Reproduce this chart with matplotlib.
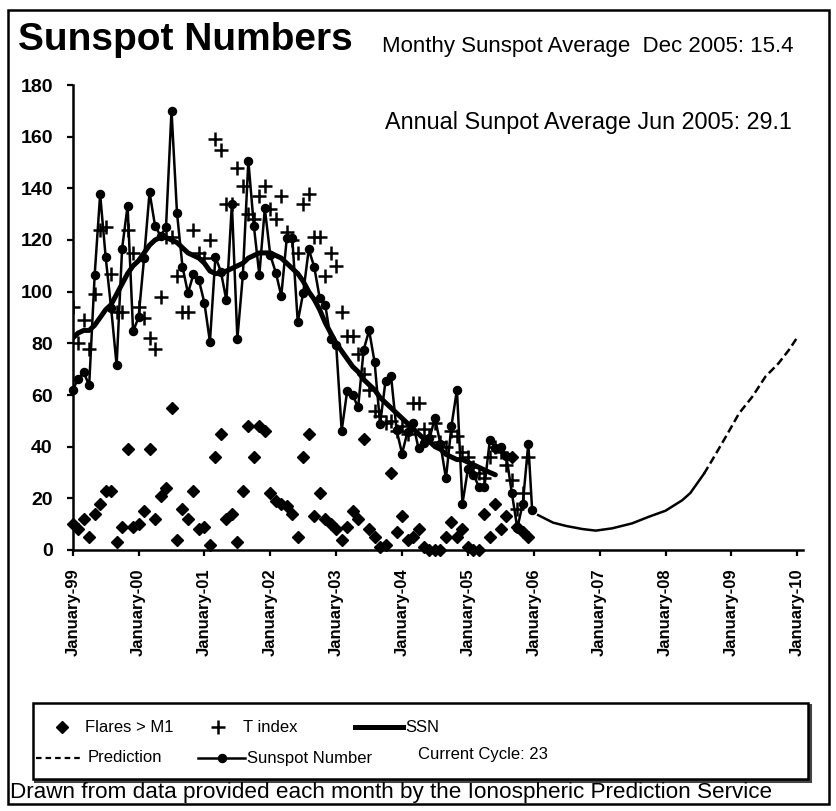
"""Sunspot numbers for solar cycle 23 with flare counts, T index and prediction."""

import matplotlib
matplotlib.use("Agg")
import matplotlib.pyplot as plt
from matplotlib.lines import Line2D
from matplotlib.patches import Rectangle
import numpy as np

plt.rcParams["font.family"] = ["Liberation Sans", "DejaVu Sans"]

W, H = 836, 811

YEAR_LABELS = ["January-99", "January-00", "January-01", "January-02", "January-03",
               "January-04", "January-05", "January-06", "January-07", "January-08",
               "January-09", "January-10"]

# monthly mean sunspot number, Jan 1999 .. Dec 2005
SUNSPOT = [62.0, 66.3, 68.8, 63.7, 106.4, 137.7, 113.5, 93.7, 71.5, 116.7, 133.2, 84.6,
           90.1, 112.9, 138.5, 125.5, 121.6, 124.9, 170.1, 130.5, 109.7, 99.4, 106.8, 104.4,
           95.6, 80.6, 113.5, 107.7, 96.6, 134.0, 81.8, 106.4, 150.7, 125.5, 106.5, 132.2,
           114.1, 107.4, 98.4, 120.7, 120.8, 88.3, 99.6, 116.4, 109.6, 97.5, 95.0, 81.6,
           79.5, 46.2, 61.5, 60.0, 55.2, 77.4, 85.0, 72.7, 48.8, 65.6, 67.2, 46.5,
           37.3, 45.8, 49.1, 39.3, 41.5, 43.2, 51.1, 40.9, 27.7, 48.0, 62.0, 17.9,
           31.3, 29.2, 24.5, 24.4, 42.6, 39.6, 39.9, 36.4, 22.1, 8.5, 18.0, 41.2]
LATEST_MONTH = 83.7
LATEST_VALUE = 15.4

# IPS T index, same months
T_INDEX = [94, 80, 89, 78, 99, 124, 125, 107, 92, 92, 124, 115,
           94, 90, 82, 78, 98, 121, 121, 106, 92, 92, 124, 115,
           113, 120, 159, 155, 134, 134, 148, 141, 130, 128, 137, 141,
           132, 128, 137, 123, 120, 115, 134, 138, 121, 121, 106, 115,
           110, 92, 83, 83, 76, 68, 62, 54, 52, 49, 50, 46,
           48, 45, 57, 57, 47, 44, 49, 42, 40, 46, 44, 38,
           36, 32, 30, 28, 36, 40, 38, 33, 27, 16, 22, 36]

# number of flares above M1 per month
FLARES = [10, 8, 12, 5, 14, 18, 23, 23, 3, 9, 39, 9,
          10, 15, 39, 12, 21, 24, 55, 4, 16, 12, 23, 8,
          9, 2, 36, 45, 12, 14, 3, 23, 48, 36, 48, 46,
          22, 19, 18, 17, 14, 5, 36, 45, 13, 22, 12, 10,
          8, 4, 9, 15, 12, 43, 8, 5, 1, 2, 30, 7,
          13, 4, 5, 8, 1, 0, 0, 0, 5, 11, 5, 8,
          1, 0, 0, 14, 5, 18, 8, 13, 36, 9, 7, 5]

# 13-month smoothed sunspot number, Jan 1999 .. Jun 2005
SSN = [82, 84, 85, 85, 87, 90, 93, 95, 99, 103, 107, 110,
       112, 115, 118, 120, 121, 121, 120, 119, 117, 115, 114, 113,
       111, 108, 107, 107, 108, 109, 110, 111, 113, 114, 115, 115,
       115, 114, 113, 111, 109, 107, 104, 100, 97, 93, 88, 84,
       80, 77, 74, 71, 69, 66, 64, 62, 59, 57, 55, 53,
       51, 49, 47, 45, 43, 42, 40, 39, 37, 36, 35, 35,
       34, 33, 32, 31, 30, 29.1]

# predicted smoothed sunspot number (months since Jan 1999)
DECLINE_MONTHS = [84.8, 87.5, 89.9, 92.9, 95.3, 98.3, 101.9, 105, 108, 111, 112.5, 114, 115]
DECLINE_VALUES = [13.5, 10.6, 9.3, 8.1, 7.5, 8.4, 10.3, 12.9, 15.2, 19.2, 22.0, 26.5, 29.5]
PREDICT_MONTHS = [115, 116.5, 119, 121.4, 123.8, 126.2, 128.6, 130.5, 132]
PREDICT_VALUES = [29.5, 34.8, 43.9, 52.9, 59.3, 67.1, 72.3, 77.5, 82.3]


def fx(px):
    return px / W


def fy(py):
    return 1 - py / H


def main():
    fig = plt.figure(figsize=(W / 100, H / 100), dpi=100)
    ax = fig.add_axes([fx(72.7), fy(550), (803.3 - 72.7) / W, 465 / H])

    months = np.arange(len(SUNSPOT))

    ax.plot(months, FLARES, linestyle="none", marker="D", ms=6.5, color="black",
            clip_on=False, zorder=3)
    ax.plot(months, T_INDEX, linestyle="none", marker="+", ms=10, mew=1.8,
            color="black", zorder=3)
    ax.plot(np.arange(len(SSN)), SSN, color="black", lw=3.6, zorder=4,
            solid_capstyle="round")
    ax.plot(list(months) + [LATEST_MONTH], SUNSPOT + [LATEST_VALUE], color="black",
            lw=1.8, marker="o", ms=5.8, zorder=5, clip_on=False)
    ax.plot(DECLINE_MONTHS, DECLINE_VALUES, color="black", lw=1.8, zorder=4)
    ax.plot(PREDICT_MONTHS, PREDICT_VALUES, color="black", lw=1.8,
            dashes=(3.2, 1.6), zorder=4)

    ax.set_xlim(0, 133.1)
    ax.set_ylim(0, 180)
    ax.set_yticks(range(0, 181, 20))
    ax.set_xticks(range(0, 133, 12))
    ax.set_xticklabels(YEAR_LABELS, rotation=90, fontsize=12, fontweight="bold")
    for lab in ax.get_yticklabels():
        lab.set_fontweight("bold")
    ax.tick_params(axis="y", labelsize=14, pad=10)
    ax.tick_params(axis="x", pad=9)
    ax.tick_params(direction="out", length=4.3, width=1.6, color="black")
    for side in ("top", "right"):
        ax.spines[side].set_visible(False)
    for side in ("left", "bottom"):
        ax.spines[side].set_linewidth(1.8)

    # headings
    fig.text(fx(18), fy(50), "Sunspot Numbers", fontsize=28, fontweight="bold",
             va="baseline")
    fig.text(fx(382), fy(52), "Monthy Sunspot Average  Dec 2005: 15.4",
             fontsize=16, va="baseline")
    fig.text(fx(385), fy(129), "Annual Sunpot Average Jun 2005: 29.1",
             fontsize=16.8, va="baseline")
    fig.text(fx(10), fy(798), "Drawn from data provided each month by the "
             "Ionospheric Prediction Service", fontsize=16.2, va="baseline")

    # key box
    tr = fig.transFigure
    fig.add_artist(Rectangle((fx(35), fy(781)), (808 - 33) / W, (779 - 703) / H,
                             transform=tr, facecolor="none",
                             edgecolor="#444444", lw=2.2))
    fig.add_artist(Rectangle((fx(33), fy(779)), (808 - 33) / W, (779 - 703) / H,
                             transform=tr, facecolor="white",
                             edgecolor="black", lw=1.8))
    r1, r2 = fy(727), fy(758)
    key = [
        Line2D([fx(62)], [r1], marker="D", ms=6.5, color="black", lw=0),
        Line2D([fx(218)], [r1], marker="+", ms=10, mew=1.8, color="black", lw=0),
        Line2D([fx(355), fx(403)], [r1, r1], color="black", lw=3.6),
        Line2D([fx(36), fx(80)], [r2, r2], color="black", lw=1.6, dashes=(2.5, 1.8)),
        Line2D([fx(198), fx(245)], [r2, r2], color="black", lw=1.8),
        Line2D([fx(222)], [r2], marker="o", ms=5.8, color="black", lw=0),
    ]
    for artist in key:
        artist.set_transform(tr)
        fig.add_artist(artist)
    for x, y, label in [(85, r1, "Flares > M1"), (243, r1, "T index"),
                        (405, r1, "SSN"), (88, r2, "Prediction"),
                        (247, r2, "Sunspot Number"), (418, fy(755), "Current Cycle: 23")]:
        fig.text(fx(x), y, label, fontsize=12, va="center")

    # outer frame
    fig.add_artist(Rectangle((fx(8), fy(804)), (829 - 8) / W, (804 - 10) / H,
                             transform=tr, facecolor="none", edgecolor="black", lw=1.8))

    fig.savefig("out.png", dpi=100)
    plt.close(fig)


if __name__ == "__main__":
    main()
